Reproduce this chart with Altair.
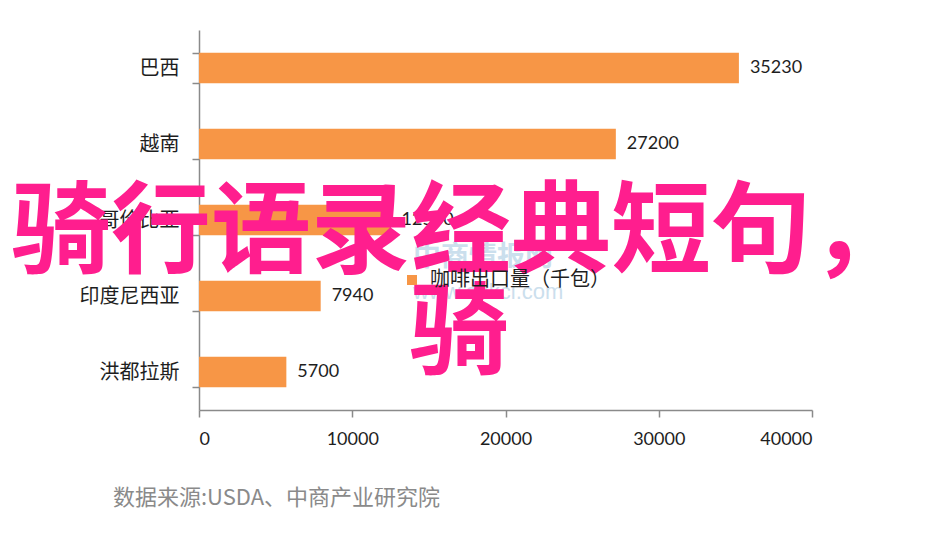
import altair as alt
import pandas as pd

# ---- data ----
countries = ["巴西", "越南", "哥伦比亚", "印度尼西亚", "洪都拉斯"]
values = [35230, 27200, 12500, 7940, 5700]
series_name = "咖啡出口量（千包）"
x_ticks = [0, 10000, 20000, 30000, 40000]
overlay_line1 = ["骑行语录经典短句，"]
overlay_line2 = ["骑"]
source_text = ["数据来源:USDA、中商产业研究院"]
watermark_cn = ["中商情报网"]
watermark_url = ["www.askci.com"]

df = pd.DataFrame({"country": countries, "value": values,
                   "series": [series_name] * len(countries)})

PAD_L, PAD_T = 199, 30
W, H = 613, 380
BAR = "#F79646"
INK = "#1e1e1e"
AXIS_GREY = "#8a8a8a"

x = alt.X("value:Q",
          scale=alt.Scale(domain=[0, 40000], nice=False),
          axis=alt.Axis(values=x_ticks, title=None, grid=False, format="d",
                        labelFont="Lato", labelFontSize=18, labelColor=INK,
                        labelPadding=13, tickSize=7, tickColor=AXIS_GREY,
                        domainColor=AXIS_GREY, domainWidth=1.5, tickWidth=1.5))
y = alt.Y("country:N", sort=countries,
          scale=alt.Scale(paddingInner=0.6, paddingOuter=0.3),
          axis=alt.Axis(title=None, tickBand="extent", tickSize=7, grid=False,
                        labelFont="Noto Sans CJK SC", labelFontSize=20,
                        labelColor=INK, labelPadding=13, tickColor=AXIS_GREY,
                        domainColor=AXIS_GREY, domainWidth=1.5, tickWidth=1.5))

bars = alt.Chart(df).mark_bar().encode(
    x=x, y=y,
    color=alt.Color("series:N", scale=alt.Scale(range=[BAR]),
                    legend=alt.Legend(title=None, orient="none",
                                      legendX=203, legendY=240,
                                      symbolType="square", symbolSize=100,
                                      symbolStrokeWidth=0, symbolOpacity=1,
                                      labelFont="Noto Sans CJK SC",
                                      labelFontSize=20, labelColor=INK,
                                      labelOffset=8, labelLimit=400)),
)

labels = alt.Chart(df).mark_text(align="left", baseline="middle", dx=11,
                                 font="Lato", fontSize=18, color=INK).encode(
    x="value:Q", y=alt.Y("country:N", sort=countries),
    text=alt.Text("value:Q", format="d"))

wm1 = alt.Chart(pd.DataFrame({"t": watermark_cn})).mark_text(
    align="left", baseline="middle", font="Noto Sans CJK SC", fontSize=28,
    fontWeight="bold", color="#7fb0d3", opacity=0.4).encode(
    text="t:N", x=alt.value(413 - PAD_L), y=alt.value(258 - PAD_T))
wm2 = alt.Chart(pd.DataFrame({"t": watermark_url})).mark_text(
    align="left", baseline="middle", font="Liberation Sans", fontSize=22,
    color="#7fb0d3", opacity=0.4).encode(
    text="t:N", x=alt.value(413 - PAD_L), y=alt.value(292 - PAD_T))

src = alt.Chart(pd.DataFrame({"t": source_text})).mark_text(
    align="left", baseline="middle", font="Noto Sans CJK SC", fontSize=22,
    color="#8a8a8a").encode(
    text="t:N", x=alt.value(113 - PAD_L), y=alt.value(498 - PAD_T))

ov1 = alt.Chart(pd.DataFrame({"t": overlay_line1})).mark_text(
    align="left", baseline="middle", font="Noto Sans CJK SC", fontSize=100,
    fontWeight="bold", color="#FF1E8E").encode(
    text="t:N", x=alt.value(11 - PAD_L), y=alt.value(235 - PAD_T))
ov2 = alt.Chart(pd.DataFrame({"t": overlay_line2})).mark_text(
    align="left", baseline="middle", font="Noto Sans CJK SC", fontSize=100,
    fontWeight="bold", color="#FF1E8E").encode(
    text="t:N", x=alt.value(409 - PAD_L), y=alt.value(336 - PAD_T))

chart = alt.layer(bars, labels, wm1, wm2, src, ov1, ov2).properties(
    width=W, height=H,
    padding={"left": PAD_L, "top": PAD_T, "right": 931 - PAD_L - W,
             "bottom": 539 - PAD_T - H},
    autosize=alt.AutoSizeParams(type="none"),
    background="white",
).configure_view(stroke=None)

chart.save("out.html", embed_options={"renderer": "svg", "actions": False})
